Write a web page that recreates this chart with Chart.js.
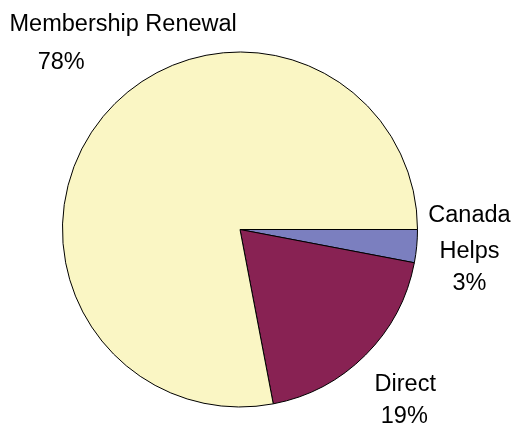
<!DOCTYPE html>
<html>
<head>
<meta charset="utf-8">
<script src="https://cdn.jsdelivr.net/npm/chart.js@4/dist/chart.umd.min.js"></script>
<style>
  html, body { margin: 0; padding: 0; background: #fff; }
  #wrap { width: 512px; height: 427px; position: relative; }
</style>
</head>
<body>
<div id="wrap"><canvas id="myPieChart"></canvas></div>
<script>
// Donation sources, share in percent (clockwise from 3 o'clock)
const sources = ['Canada Helps', 'Direct', 'Membership Renewal'];
const shares = [3, 19, 78];
// Label text per slice, the percentage is added as the last line
const labelLines = [['Canada', 'Helps'], ['Direct'], ['Membership Renewal']];
const sliceColors = ['#7b7fbf', '#882253', '#faf6c4'];

// Per-line offsets from the point just outside each slice
const lineOffsets = [
  [[1, -36], [1, 0], [1, 32]],
  [[3, -7], [2, 25]],
  [[60, -59], [-2, -21]]
];

// Draws the labels outside the slices
const sliceLabels = {
  id: 'sliceLabels',
  afterDraw(chart) {
    const ctx = chart.ctx;
    const meta = chart.getDatasetMeta(0);
    ctx.save();
    ctx.font = '23.5px "Liberation Sans", Arial, sans-serif';
    ctx.fillStyle = '#000';
    ctx.textAlign = 'center';
    ctx.textBaseline = 'middle';
    meta.data.forEach(function (arc, i) {
      const mid = (arc.startAngle + arc.endAngle) / 2;
      const dist = arc.outerRadius + 52;
      const ax = arc.x + Math.cos(mid) * dist;
      const ay = arc.y + Math.sin(mid) * dist;
      const lines = labelLines[i].concat([shares[i] + '%']);
      lines.forEach(function (txt, j) {
        const off = lineOffsets[i][j];
        ctx.fillText(txt, ax + off[0], ay + off[1]);
      });
    });
    ctx.restore();
  }
};

const ctx = document.getElementById('myPieChart').getContext('2d');
new Chart(ctx, {
  type: 'pie',
  data: {
    labels: sources,
    datasets: [{
      data: shares,
      backgroundColor: sliceColors,
      borderColor: '#000',
      borderWidth: 1,
      hoverOffset: 0
    }]
  },
  options: {
    responsive: true,
    maintainAspectRatio: false,
    animation: false,
    rotation: 90,
    layout: {
      padding: { left: 62, right: 94, top: 51.5, bottom: 19.5 }
    },
    plugins: {
      legend: { display: false },
      tooltip: { enabled: false }
    }
  },
  plugins: [sliceLabels]
});
</script>
</body>
</html>
